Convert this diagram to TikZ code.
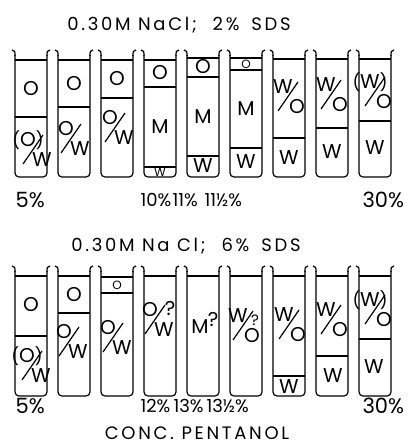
\documentclass[tikz,border=0pt]{standalone}
\usepackage{fontspec}
\setmainfont{Poppins}
\newfontfamily\widefont[LetterSpace=15]{Poppins}
\newcommand\tube[3]{%
  \draw (#1-3,#2) .. controls (#1,#2) and (#1,#2+2) .. (#1,#2+6);
  \draw[rounded corners=4pt] (#1,#2+5) -- (#1,#3) -- (#1+32,#3) -- (#1+32,#2+5);
  \draw (#1+35,#2) .. controls (#1+32,#2) and (#1+32,#2+2) .. (#1+32,#2+6);}
\newcommand\lev[2]{\draw (#1,#2) -- (#1+32,#2);}
% centre x, centre y, upper text, lower text
\newcommand\fracOW[4]{%
  \node[lab] at (#1-7,#2-10) {#3};
  \node[lab] at (#1+7,#2+10) {#4};
  \draw (#1-12,#2+14) -- (#1+8,#2-15);}
\newcommand\paren[1]{{\fontsize{17}{17}\selectfont(}#1{\fontsize{17}{17}\selectfont)}}
\begin{document}
\begin{tikzpicture}[x=1pt,y=-1pt,line width=1.2pt,
  lab/.style={font=\fontsize{20}{20}\selectfont,inner sep=0pt},
  tiny/.style={font=\fontsize{12}{12}\selectfont,inner sep=0pt},
  ttl/.style={font=\widefont\fontsize{18}{18}\selectfont,inner sep=0pt},
  pct/.style={font=\fontsize{18}{18}\selectfont,inner sep=0pt,anchor=west},
  bigpct/.style={font=\fontsize{21}{21}\selectfont,inner sep=0pt,anchor=west}]
\useasboundingbox (0,0) rectangle (412,448);
% ---------- top row ----------
\node[ttl] (t1) at (179,25) {0.30M NaCl;\hspace{16pt}2\%\hspace{12pt}SDS};
\foreach \i in {0,...,8}{\tube{15+43*\i}{50}{177}}
% tube 1
\lev{15}{60}\lev{15}{117}
\node[lab] (a1) at (31,89) {O};
\fracOW{35}{150}{\paren{O}}{W}
% tube 2
\lev{58}{60}\lev{58}{107}
\node[lab] (a2) at (74,84) {O};
\fracOW{73}{139}{O}{W}
% tube 3
\lev{101}{60}\lev{101}{98}
\node[lab] (a3) at (117,79) {O};
\fracOW{117}{128}{O}{W}
% tube 4
\lev{144}{60}\lev{144}{87}\lev{144}{167}
\node[lab] (a4) at (160,73) {O};
\node[lab] (b4) at (160,127) {M};
\node[tiny] (c4) at (160,172) {W};
% tube 5
\lev{187}{58}\lev{187}{77}\lev{187}{156}
\node[lab] (a5) at (203,67) {O};
\node[lab] (b5) at (203,117) {M};
\node[lab] (c5) at (203,166) {W};
% tube 6
\lev{230}{58}\lev{230}{70}\lev{230}{148}
\node[tiny] (a6) at (246,64) {O};
\node[lab] (b6) at (246,109) {M};
\node[lab] (c6) at (246,162) {W};
% tube 7
\lev{273}{59}\lev{273}{138}
\fracOW{290}{97}{W}{O}
\node[lab] (c7) at (289,158) {W};
% tube 8
\lev{316}{59}\lev{316}{128}
\fracOW{333}{95}{W}{O}
\node[lab] (c8) at (332,152) {W};
% tube 9
\lev{359}{59}\lev{359}{121}
\fracOW{377}{92}{\paren{W}}{O}
\node[lab] (c9) at (375,148) {W};
% labels
\node[bigpct] (p1) at (15,200) {5\%};
\node[pct] (p2) at (140,200) {10\%};
\node[pct] (p3) at (172,200) {11\%};
\node[pct] (p4) at (204,200) {11½\%};
\node[bigpct] (p5) at (362,200) {30\%};
% ---------- bottom row ----------
\node[ttl] (t2) at (186,246) {0.30M Na Cl;\hspace{16pt}6\%\hspace{12pt}SDS};
\foreach \i in {0,...,8}{\tube{15+43*\i}{266}{396}}
% tube 1
\lev{15}{276}\lev{15}{336}
\node[lab] (d1) at (31,305) {O};
\fracOW{34}{366}{\paren{O}}{W}
% tube 2
\lev{58}{276}\lev{58}{313}
\node[lab] (d2) at (74,295) {O};
\fracOW{71}{342}{O}{W}
% tube 3
\lev{101}{277}\lev{101}{293}
\node[tiny] (d3) at (117,285) {O};
\fracOW{115}{338}{O}{W}
% tube 4
\lev{144}{276}
\fracOW{157}{320}{O}{W}
\node[lab] (q4) at (170,308) {?};
% tube 5
\lev{187}{276}
\node[lab] (e5) at (200,327) {M};
\node[lab] (e5q) at (213,319) {?};
% tube 6
\lev{230}{276}
\fracOW{245}{326}{W}{O}
\node[font=\fontsize{15}{15}\selectfont,inner sep=0pt] (q6) at (255,320) {?};
% tube 7
\lev{273}{276}\lev{273}{376}
\fracOW{291}{325}{W}{O}
\node[lab] (f7) at (289,387) {W};
% tube 8
\lev{316}{276}\lev{316}{356}
\fracOW{333}{320}{W}{O}
\node[lab] (f8) at (333,376) {W};
% tube 9
\lev{359}{276}\lev{359}{339}
\fracOW{377}{310}{\paren{W}}{O}
\node[lab] (f9) at (374,367) {W};
% labels
\node[bigpct] (r1) at (15,406) {5\%};
\node[pct] (r2) at (140,406) {12\%};
\node[pct] (r3) at (173,406) {13\%};
\node[pct] (r4) at (206,406) {13½\%};
\node[bigpct] (r5) at (362,406) {30\%};
\node[ttl] (x) at (197,433) {CONC. PENTANOL};
\end{tikzpicture}
\end{document}
